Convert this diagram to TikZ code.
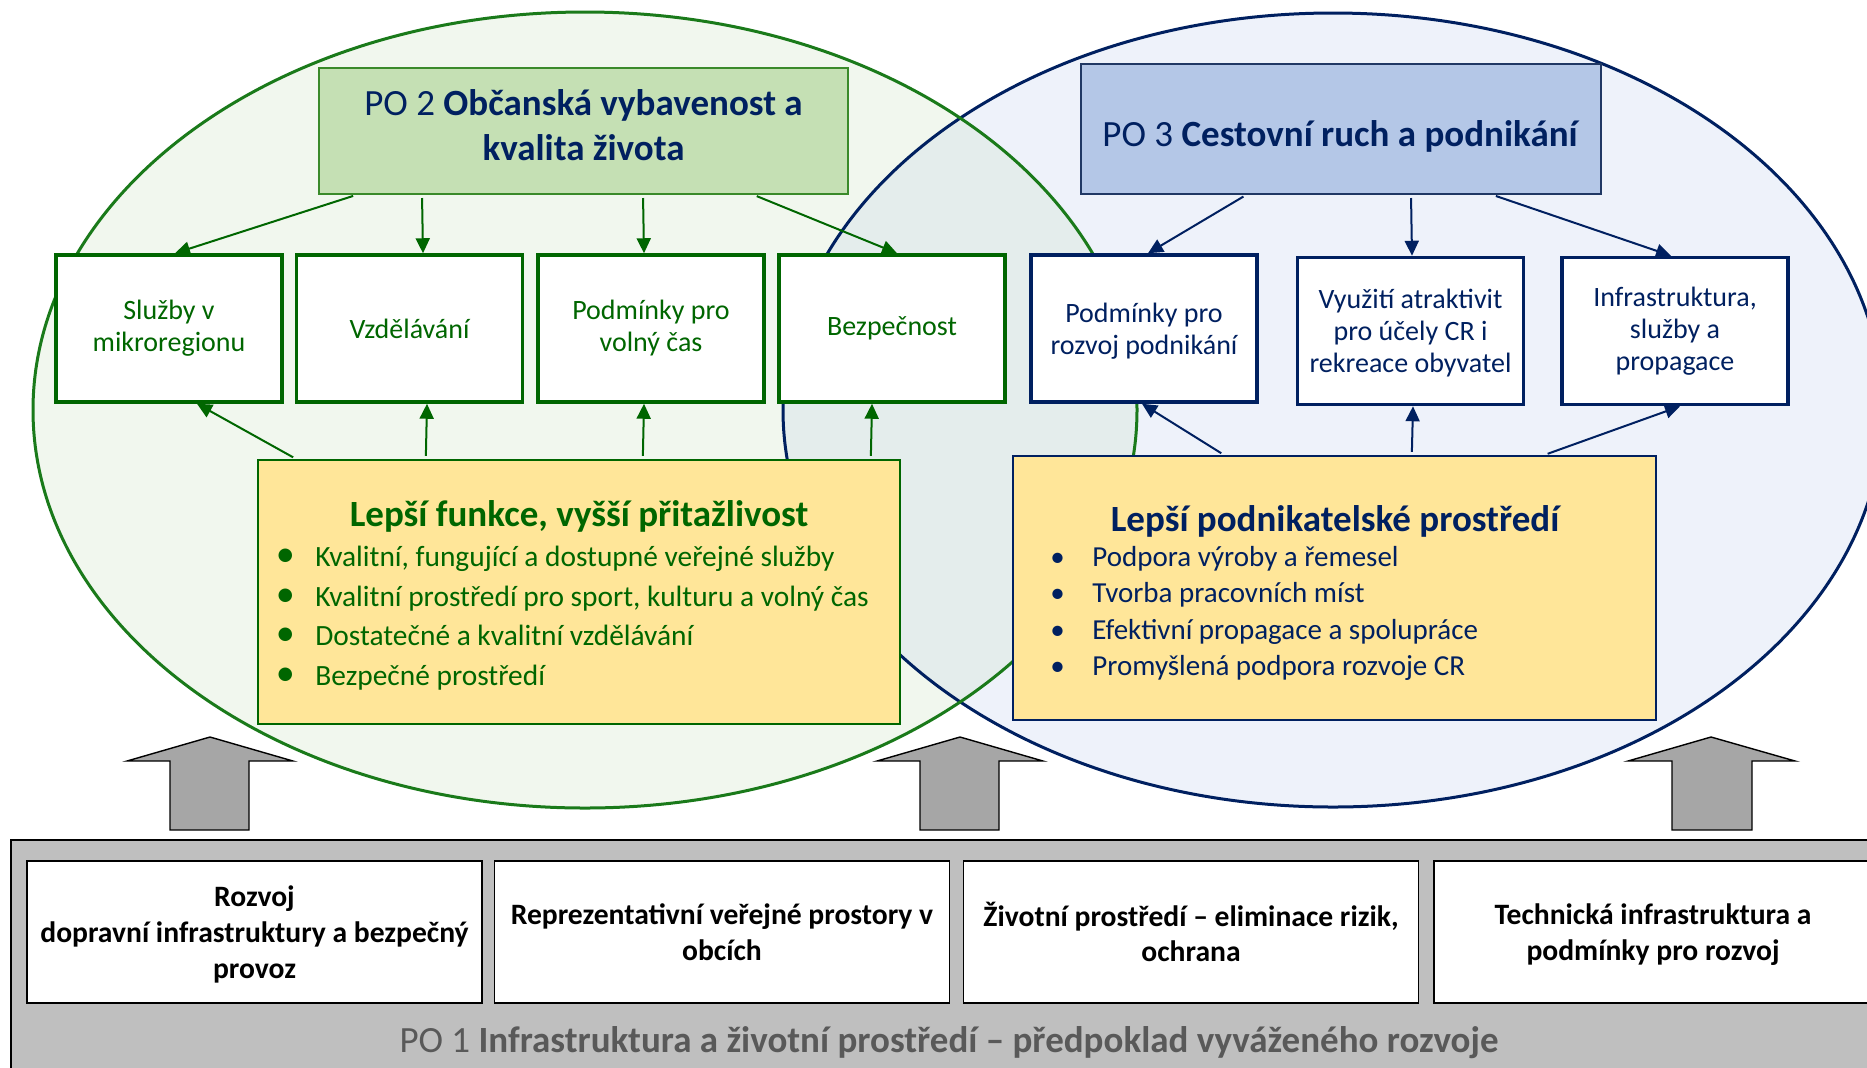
\documentclass[tikz,border=0pt]{standalone}
\usepackage{fontspec}
\setmainfont{Carlito}
\usetikzlibrary{arrows.meta}
\definecolor{zelena}{HTML}{006600}
\definecolor{zelena_kruh}{HTML}{1A7A1A}
\definecolor{modra}{HTML}{002060}
\definecolor{po2_okraj}{HTML}{3A8A2A}
\definecolor{po2_vypln}{HTML}{C5E0B4}
\definecolor{po3_okraj}{HTML}{203864}
\definecolor{po3_vypln}{HTML}{B4C7E7}
\definecolor{zluta}{HTML}{FFE699}
\definecolor{seda}{HTML}{BFBFBF}
\definecolor{seda_sipka}{HTML}{A6A6A6}
\definecolor{seda_text}{HTML}{595959}
\definecolor{zelena_pozadi}{HTML}{F1F7EE}
\definecolor{modra_pozadi}{HTML}{EEF2FA}
\definecolor{prekryv}{HTML}{E4EDEC}
\newcommand{\bod}[2]{\makebox[#1][l]{\scalebox{#2}{\textbullet}}}

\begin{document}
\begin{tikzpicture}[x=0.5pt, y=-0.5pt,
    ramecek/.style={draw=zelena, line width=1.75pt, fill=white, minimum width=113pt, minimum height=73.5pt, inner sep=0pt, align=center, text=zelena, font=\fontsize{14}{16}\selectfont},
    ramecek3/.style={ramecek, draw=modra, text=modra},
    dole/.style={draw=black, line width=0.8pt, fill=white, minimum width=227.5pt, minimum height=71pt, inner sep=0pt, align=center, font=\fontsize{14.8}{17.9}\selectfont\bfseries},
    sipka/.style={-{Triangle[length=7.5pt,width=7pt]}, line width=1pt, zelena, shorten <=1.5pt},
    sipka3/.style={sipka, modra},
    blok/.style={fill=seda_sipka, draw=black, line width=0.7pt}]
    \clip (0,0) rectangle (1867,1067);
    % Elipsy PO 2 a PO 3
    \fill[zelena_pozadi] (585,410) ellipse [x radius=276pt, y radius=199pt];
    \fill[modra_pozadi] (1333,410) ellipse [x radius=275pt, y radius=198.5pt];
    \begin{scope}
        \clip (585,410) ellipse [x radius=276pt, y radius=199pt];
        \fill[prekryv] (1333,410) ellipse [x radius=275pt, y radius=198.5pt];
    \end{scope}
    \draw[modra, line width=1.5pt] (1333,410) ellipse [x radius=275pt, y radius=198.5pt];
    \draw[zelena_kruh, line width=1.5pt] (585,410) ellipse [x radius=276pt, y radius=199pt];

    % PO 2
    \node[draw=po2_okraj, fill=po2_vypln, line width=1pt, minimum width=264.5pt, minimum height=63pt, inner sep=0pt, text depth=6pt, align=center, text=modra, font=\fontsize{18.5}{22.6}\selectfont] (po2) at (583.5,131) {PO 2 \textbf{Občanská vybavenost a}\\\textbf{kvalita života}};
    \node[ramecek] (sluzby) at (169,328.5) {Služby v\\mikroregionu};
    \node[ramecek] (vzdelavani) at (409.5,328.5) {Vzdělávání};
    \node[ramecek] (volny_cas) at (651,328.5) {Podmínky pro\\volný čas};
    \node[ramecek] (bezpecnost) at (892,328.5) {Bezpečnost};

    % PO 3
    \node[draw=po3_okraj, fill=po3_vypln, line width=1pt, minimum width=260pt, minimum height=65pt, inner sep=0pt, text height=17.5pt, text depth=0pt, text=modra, font=\fontsize{18.5}{22.6}\selectfont] (po3) at (1341,129) {PO 3 \textbf{Cestovní ruch a podnikání}};
    \node[ramecek3, text depth=0pt] (podnikani) at (1144,328.5) {Podmínky pro\\rozvoj podnikání};
    \node[ramecek3, text depth=0pt] (atraktivity) at (1410.5,331) {Využití atraktivit\\pro účely CR i\\rekreace obyvatel};
    \node[ramecek3] (propagace) at (1675,331) {Infrastruktura,\\služby a\\propagace};

    % Zlute ramecky
    \node[draw=zelena, fill=zluta, line width=1.2pt, minimum width=321pt, minimum height=132pt] (lepsi) at (579,592) {};
    \node[anchor=base, text=zelena, font=\fontsize{18.5}{22.6}\selectfont\bfseries] (lepsi_nadpis) at (579,526) {Lepší funkce, vyšší přitažlivost};
    \node[anchor=base west, align=left, inner sep=0pt, text=zelena, font=\fontsize{14.7}{19.8}\selectfont] (lepsi_body) at (275.5,685.5) {\bod{19.75pt}{1.3}Kvalitní, fungující a dostupné veřejné služby\\\bod{19.75pt}{1.3}Kvalitní prostředí pro sport, kulturu a volný čas\\\bod{19.75pt}{1.3}Dostatečné a kvalitní vzdělávání\\\bod{19.75pt}{1.3}Bezpečné prostředí};

    \node[draw=modra, fill=zluta, line width=1.2pt, minimum width=321.5pt, minimum height=132pt] (prostredi) at (1334.5,588) {};
    \node[anchor=base, text=modra, font=\fontsize{18.5}{22.6}\selectfont\bfseries] (prostredi_nadpis) at (1335,531) {Lepší podnikatelské prostředí};
    \node[anchor=base west, align=left, inner sep=0pt, text=modra, font=\fontsize{14.5}{18.15}\selectfont] (prostredi_body) at (1050,675.5) {\bod{21pt}{1}Podpora výroby a řemesel\\\bod{21pt}{1}Tvorba pracovních míst\\\bod{21pt}{1}Efektivní propagace a spolupráce\\\bod{21pt}{1}Promyšlená podpora rozvoje CR};

    % Sipky PO 2
    \draw[sipka] ([xshift=19pt]po2.south west) -- ([xshift=3pt]sluzby.north);
    \draw[sipka] ([xshift=52pt]po2.south west) -- ([xshift=6.75pt]vzdelavani.north);
    \draw[sipka] ([xshift=162.5pt]po2.south west) -- ([xshift=-3.5pt]volny_cas.north);
    \draw[sipka] ([xshift=218pt]po2.south west) -- ([xshift=2.5pt]bezpecnost.north);
    \draw[sipka] ([xshift=19.5pt]lepsi.north west) -- ([xshift=14pt]sluzby.south);
    \draw[sipka] ([xshift=84.5pt]lepsi.north west) -- ([xshift=8.75pt]vzdelavani.south);
    \draw[sipka] ([xshift=193pt]lepsi.north west) -- ([xshift=-3.5pt]volny_cas.south);
    \draw[sipka] ([xshift=307pt]lepsi.north west) -- ([xshift=-10pt]bezpecnost.south);

    % Sipky PO 3
    \draw[sipka3] ([xshift=83pt]po3.south west) -- ([xshift=2pt]podnikani.north);
    \draw[sipka3] ([xshift=165.5pt]po3.south west) -- ([xshift=0.75pt]atraktivity.north);
    \draw[sipka3] ([xshift=206.5pt]po3.south west) -- ([xshift=-2pt]propagace.north);
    \draw[sipka3] ([xshift=106pt]prostredi.north west) -- ([xshift=-1pt]podnikani.south);
    \draw[sipka3] ([xshift=200pt]prostredi.north west) -- ([xshift=1.25pt]atraktivity.south);
    \draw[sipka3] ([xshift=266.5pt]prostredi.north west) -- ([xshift=2.5pt]propagace.south);

    % Velke sipky
    \draw[blok] (210,737) -- (293,761) -- (249,761) -- (249,830) -- (170,830) -- (170,761) -- (127,761) -- cycle;
    \draw[blok] (960,737) -- (1043,761) -- (999,761) -- (999,830) -- (920,830) -- (920,761) -- (877,761) -- cycle;
    \draw[blok] (1711,737) -- (1795,761) -- (1752,761) -- (1752,830) -- (1672,830) -- (1672,761) -- (1628,761) -- cycle;

    % PO 1
    \draw[fill=seda, draw=black, line width=1pt] (11,840) rectangle (1900,1100);
    \node[dole, text depth=-3.5pt] (doprava) at (254.5,932) {Rozvoj\\dopravní infrastruktury a bezpečný\\provoz};
    \node[dole] (prostory) at (722,932) {Reprezentativní veřejné prostory v\\obcích};
    \node[dole] (zivotni) at (1191,932) {Životní prostředí – eliminace rizik,\\ochrana};
    \node[dole, minimum width=219pt, text depth=-2.5pt] (technicka) at (1653,932) {Technická infrastruktura a\\podmínky pro rozvoj};
    \node[anchor=base, text=seda_text, font=\fontsize{18.5}{22.6}\selectfont] (po1) at (949,1052) {PO 1 \textbf{Infrastruktura a životní prostředí – předpoklad vyváženého rozvoje}};
\end{tikzpicture}
\end{document}
